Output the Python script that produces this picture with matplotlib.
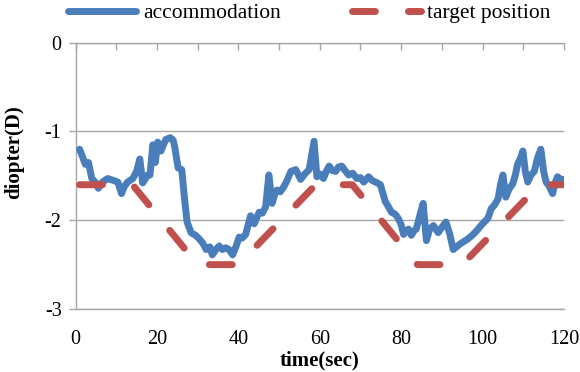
import matplotlib
matplotlib.use('Agg')
from matplotlib import pyplot as plt
from matplotlib.ticker import MultipleLocator

# accommodation trace
acc_t = [1, 1.6, 2.4, 3.2, 4.0, 5.0, 5.6, 6.6, 7.9, 9.2, 10.4, 11.3, 12.0, 12.8,
         14.1, 15.0, 15.8, 16.5, 17.2, 17.7, 18.3, 19.0, 19.6, 20.2, 21.0, 21.6,
         22.2, 23.3, 24.0, 24.4, 25.2, 26.1, 26.7, 27.4, 28.4, 29.5, 30.4, 31.3,
         32.1, 33.0, 33.6, 34.5, 35.3, 36.1, 36.9, 37.7, 38.6, 39.4, 40.2, 41.0,
         41.8, 43.0, 43.9, 45.1, 45.9, 46.7, 47.5, 48.3, 49.0, 49.5, 50.3, 51.2,
         52.0, 52.9, 54.1, 55.3, 56.3, 57.4, 58.6, 59.3, 60.1, 60.9, 61.6, 62.3,
         63.1, 63.9, 64.6, 65.4, 66.2, 67.1, 68.1, 69.1, 70.0, 70.8, 72.0, 72.8,
         73.7, 74.9, 76.1, 76.9, 77.6, 78.5, 79.3, 80.0, 80.6, 81.2, 81.8, 82.5,
         83.1, 83.7, 84.5, 85.4, 86.2, 87.0, 87.9, 88.5, 89.1, 90.0, 91.0, 91.9,
         92.8, 93.6, 94.4, 95.4, 96.4, 97.2, 98.1, 98.9, 99.6, 100.4, 101.3, 102.1,
         102.9, 103.8, 104.4, 105.0, 105.7, 106.5, 107.4, 108.0, 108.6, 109.3,
         109.9, 110.5, 111.1, 111.9, 112.7, 113.5, 114.3, 115.0, 115.6, 116.4,
         117.2, 117.8, 118.4, 119.2, 120]
acc_d = [-1.2, -1.27, -1.37, -1.35, -1.53, -1.58, -1.64, -1.57, -1.53, -1.55, -1.57,
         -1.70, -1.62, -1.57, -1.53, -1.45, -1.31, -1.58, -1.53, -1.49, -1.49, -1.15,
         -1.35, -1.12, -1.22, -1.15, -1.09, -1.07, -1.10, -1.18, -1.41, -1.43, -1.72,
         -2.02, -2.14, -2.17, -2.21, -2.26, -2.33, -2.30, -2.39, -2.33, -2.29, -2.33,
         -2.31, -2.33, -2.39, -2.30, -2.19, -2.20, -2.16, -1.95, -2.04, -1.91, -1.92,
         -1.85, -1.49, -1.81, -1.70, -1.66, -1.68, -1.62, -1.55, -1.45, -1.43, -1.54,
         -1.48, -1.43, -1.11, -1.51, -1.48, -1.53, -1.45, -1.39, -1.44, -1.45, -1.40,
         -1.39, -1.44, -1.49, -1.47, -1.53, -1.52, -1.57, -1.51, -1.55, -1.57, -1.60,
         -1.79, -1.85, -1.91, -1.93, -1.98, -2.05, -2.16, -2.12, -2.10, -2.17, -2.12,
         -2.10, -1.96, -1.81, -2.23, -2.10, -2.06, -2.10, -2.14, -2.08, -2.02, -2.15,
         -2.33, -2.30, -2.27, -2.24, -2.21, -2.18, -2.14, -2.10, -2.06, -2.02, -1.98,
         -1.87, -1.83, -1.76, -1.60, -1.49, -1.74, -1.65, -1.59, -1.50, -1.37, -1.30,
         -1.22, -1.45, -1.57, -1.49, -1.45, -1.30, -1.20, -1.45, -1.57, -1.62, -1.70,
         -1.58, -1.51, -1.54, -1.54]

# target position
tgt_t = [1, 14, 30, 40, 59, 68, 84, 95, 114, 120]
tgt_d = [-1.6, -1.6, -2.5, -2.5, -1.6, -1.6, -2.5, -2.5, -1.6, -1.6]

plt.rcParams['font.family'] = ['Liberation Serif', 'DejaVu Serif']
plt.rcParams['axes.unicode_minus'] = False

BLUE = '#4A7EBB'
RED = '#C0504D'
GRAY = '#A6A6A6'

fig = plt.figure(figsize=(5.8, 3.72), dpi=100)
ax = fig.add_axes([75.5 / 580, 1 - 309 / 372, (564 - 75.5) / 580, (309 - 42.7) / 372])

ax.plot(acc_t, acc_d, color=BLUE, lw=5, solid_joinstyle='round',
        solid_capstyle='round', label='accommodation', zorder=3)
ax.plot(tgt_t, tgt_d, color=RED, lw=5, dashes=(3.3, 4.75),
        dash_capstyle='round', label='target position', zorder=4)

ax.set_xlim(0, 120)
ax.set_ylim(-3, 0)
ax.xaxis.set_major_locator(MultipleLocator(20))
ax.xaxis.set_minor_locator(MultipleLocator(10))
ax.yaxis.set_major_locator(MultipleLocator(1))

ax.tick_params(axis='x', which='both', top=True, bottom=False, direction='in',
               length=5, width=1, color=GRAY, labelsize=14.5, pad=15)
ax.tick_params(axis='y', direction='out', length=5, width=1, color=GRAY,
               labelsize=14.5, pad=5)
ax.yaxis.grid(True, color=GRAY, lw=1)
ax.set_axisbelow(True)

for side in ['left', 'top', 'bottom']:
    ax.spines[side].set_color(GRAY)
    ax.spines[side].set_linewidth(1)
ax.spines['right'].set_visible(False)

ax.set_xlabel('time(sec)', fontsize=15, fontweight='bold', labelpad=1)
fig.text(14 / 580, 1 - 152 / 372, 'diopter(D)', rotation=90, fontsize=15,
         fontweight='bold', ha='center', va='center')

fig.legend(loc='center', bbox_to_anchor=(309 / 580, 1 - 13 / 372), ncol=2,
           frameon=False, fontsize=15.5, handlelength=3.2, handletextpad=0.3,
           columnspacing=3.3, borderaxespad=0, borderpad=0)

fig.savefig('out.png', dpi=100)
